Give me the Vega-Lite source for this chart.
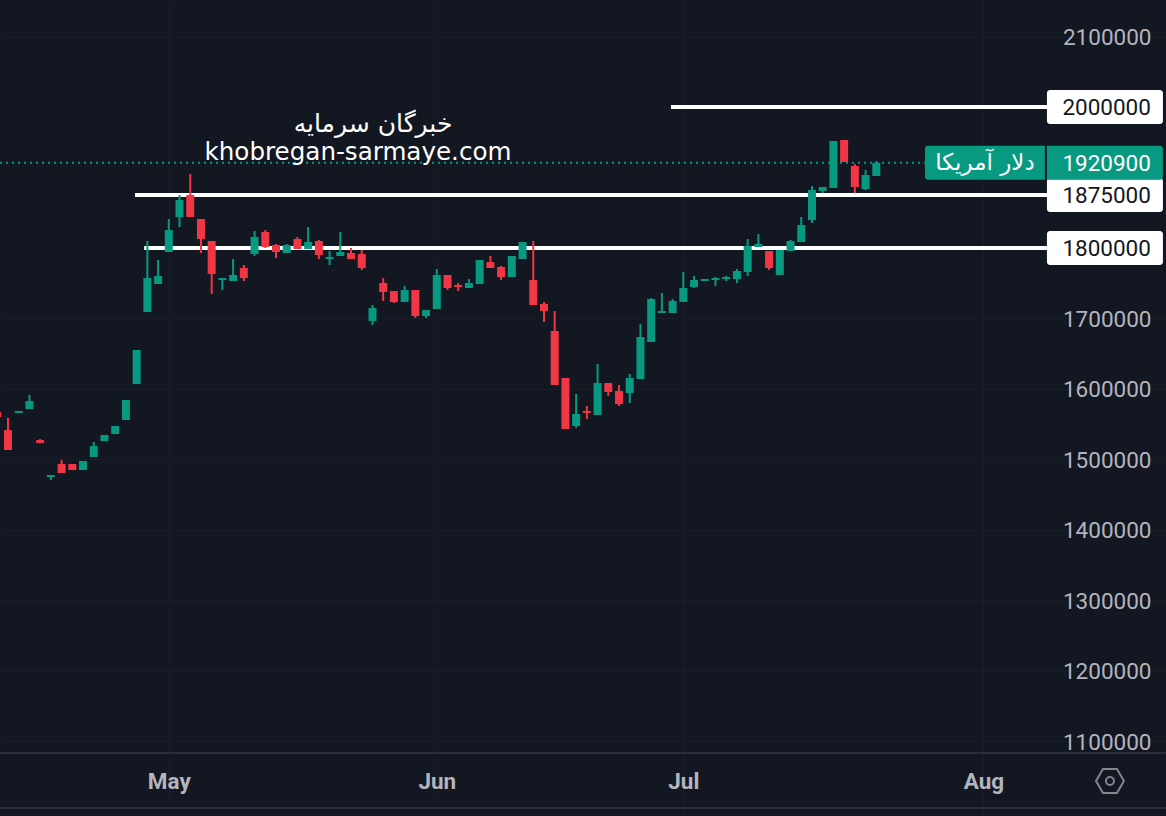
{
  "$schema": "https://vega.github.io/schema/vega-lite/v6.1.0.json",
  "description": "USD price candlestick chart with support and resistance levels",
  "width": 1166,
  "height": 816,
  "autosize": {"type": "none"},
  "padding": {"left": 0, "right": 0, "top": 0, "bottom": 0},
  "background": "#131722",
  "config": {"view": {"stroke": null}},
  "datasets": {
    "candles": [
      {"i": -1, "dir": "down", "high": 1567400, "open": 1567400, "close": 1560300, "low": 1560300},
      {"i": 0, "dir": "down", "high": 1558900, "open": 1541800, "close": 1513500, "low": 1513500},
      {"i": 1, "dir": "up", "high": 1568800, "open": 1566000, "close": 1568800, "low": 1566000},
      {"i": 2, "dir": "up", "high": 1591500, "open": 1571600, "close": 1583000, "low": 1571600},
      {"i": 3, "dir": "down", "high": 1529100, "open": 1527700, "close": 1523400, "low": 1523400},
      {"i": 4, "dir": "up", "high": 1478000, "open": 1475200, "close": 1478000, "low": 1470900},
      {"i": 5, "dir": "down", "high": 1499300, "open": 1493600, "close": 1480900, "low": 1480900},
      {"i": 6, "dir": "down", "high": 1493600, "open": 1493600, "close": 1485100, "low": 1485100},
      {"i": 7, "dir": "up", "high": 1497900, "open": 1485100, "close": 1497900, "low": 1485100},
      {"i": 8, "dir": "up", "high": 1524800, "open": 1503500, "close": 1519100, "low": 1503500},
      {"i": 9, "dir": "up", "high": 1534800, "open": 1526200, "close": 1534800, "low": 1526200},
      {"i": 10, "dir": "up", "high": 1547500, "open": 1536200, "close": 1547500, "low": 1536200},
      {"i": 11, "dir": "up", "high": 1584400, "open": 1556000, "close": 1584400, "low": 1556000},
      {"i": 12, "dir": "up", "high": 1655300, "open": 1607100, "close": 1655300, "low": 1607100},
      {"i": 13, "dir": "up", "high": 1809900, "open": 1709200, "close": 1757400, "low": 1709200},
      {"i": 14, "dir": "up", "high": 1783000, "open": 1748900, "close": 1760300, "low": 1748900},
      {"i": 15, "dir": "up", "high": 1841100, "open": 1794300, "close": 1825500, "low": 1794300},
      {"i": 16, "dir": "up", "high": 1875200, "open": 1844000, "close": 1868100, "low": 1829800},
      {"i": 17, "dir": "down", "high": 1905000, "open": 1875200, "close": 1844000, "low": 1844000},
      {"i": 18, "dir": "down", "high": 1841100, "open": 1841100, "close": 1812800, "low": 1792900},
      {"i": 19, "dir": "down", "high": 1809900, "open": 1809900, "close": 1763100, "low": 1734800},
      {"i": 20, "dir": "up", "high": 1757400, "open": 1754600, "close": 1757400, "low": 1740400},
      {"i": 21, "dir": "up", "high": 1784400, "open": 1753200, "close": 1761700, "low": 1753200},
      {"i": 22, "dir": "down", "high": 1775900, "open": 1771600, "close": 1757400, "low": 1753200},
      {"i": 23, "dir": "up", "high": 1824100, "open": 1791500, "close": 1815600, "low": 1788700},
      {"i": 24, "dir": "down", "high": 1825500, "open": 1822700, "close": 1801400, "low": 1800000},
      {"i": 25, "dir": "down", "high": 1805700, "open": 1804300, "close": 1794300, "low": 1785800},
      {"i": 26, "dir": "up", "high": 1805700, "open": 1792900, "close": 1804300, "low": 1792900},
      {"i": 27, "dir": "down", "high": 1815600, "open": 1812800, "close": 1798600, "low": 1798600},
      {"i": 28, "dir": "up", "high": 1829800, "open": 1798600, "close": 1808500, "low": 1798600},
      {"i": 29, "dir": "down", "high": 1811300, "open": 1809900, "close": 1790100, "low": 1784400},
      {"i": 30, "dir": "up", "high": 1795700, "open": 1784400, "close": 1787200, "low": 1775900},
      {"i": 31, "dir": "up", "high": 1822700, "open": 1788700, "close": 1794300, "low": 1788700},
      {"i": 32, "dir": "down", "high": 1800000, "open": 1792900, "close": 1784400, "low": 1784400},
      {"i": 33, "dir": "down", "high": 1797200, "open": 1791500, "close": 1771600, "low": 1768800},
      {"i": 34, "dir": "up", "high": 1719100, "open": 1696500, "close": 1714900, "low": 1690800},
      {"i": 35, "dir": "down", "high": 1757400, "open": 1750400, "close": 1737600, "low": 1724800},
      {"i": 36, "dir": "down", "high": 1739000, "open": 1739000, "close": 1723400, "low": 1722000},
      {"i": 37, "dir": "up", "high": 1746100, "open": 1723400, "close": 1740400, "low": 1723400},
      {"i": 38, "dir": "down", "high": 1740400, "open": 1740400, "close": 1703500, "low": 1700700},
      {"i": 39, "dir": "up", "high": 1712100, "open": 1703500, "close": 1712100, "low": 1700700},
      {"i": 40, "dir": "up", "high": 1770200, "open": 1713500, "close": 1761700, "low": 1713500},
      {"i": 41, "dir": "down", "high": 1761700, "open": 1761700, "close": 1743300, "low": 1740400},
      {"i": 42, "dir": "down", "high": 1750400, "open": 1747500, "close": 1744700, "low": 1739000},
      {"i": 43, "dir": "up", "high": 1756000, "open": 1743300, "close": 1750400, "low": 1743300},
      {"i": 44, "dir": "up", "high": 1783000, "open": 1748900, "close": 1783000, "low": 1748900},
      {"i": 45, "dir": "down", "high": 1788700, "open": 1780100, "close": 1771600, "low": 1771600},
      {"i": 46, "dir": "down", "high": 1774500, "open": 1773100, "close": 1758900, "low": 1754600},
      {"i": 47, "dir": "up", "high": 1788700, "open": 1758900, "close": 1788700, "low": 1758900},
      {"i": 48, "dir": "up", "high": 1808500, "open": 1784400, "close": 1808500, "low": 1784400},
      {"i": 49, "dir": "down", "high": 1809900, "open": 1754600, "close": 1719100, "low": 1719100},
      {"i": 50, "dir": "down", "high": 1723400, "open": 1720600, "close": 1710600, "low": 1695000},
      {"i": 51, "dir": "down", "high": 1710600, "open": 1682300, "close": 1605700, "low": 1605700},
      {"i": 52, "dir": "down", "high": 1615600, "open": 1615600, "close": 1543300, "low": 1543300},
      {"i": 53, "dir": "up", "high": 1592900, "open": 1547500, "close": 1564500, "low": 1544700},
      {"i": 54, "dir": "down", "high": 1575900, "open": 1568800, "close": 1566000, "low": 1557400},
      {"i": 55, "dir": "up", "high": 1635500, "open": 1563100, "close": 1608500, "low": 1563100},
      {"i": 56, "dir": "down", "high": 1608500, "open": 1608500, "close": 1595700, "low": 1590100},
      {"i": 57, "dir": "down", "high": 1605700, "open": 1597200, "close": 1578700, "low": 1575900},
      {"i": 58, "dir": "up", "high": 1621300, "open": 1594300, "close": 1615600, "low": 1580100},
      {"i": 59, "dir": "up", "high": 1692200, "open": 1614200, "close": 1673800, "low": 1614200},
      {"i": 60, "dir": "up", "high": 1729100, "open": 1666700, "close": 1727700, "low": 1666700},
      {"i": 61, "dir": "up", "high": 1736200, "open": 1707800, "close": 1710600, "low": 1707800},
      {"i": 62, "dir": "up", "high": 1727700, "open": 1707800, "close": 1724800, "low": 1707800},
      {"i": 63, "dir": "up", "high": 1766000, "open": 1723400, "close": 1743300, "low": 1723400},
      {"i": 64, "dir": "up", "high": 1760300, "open": 1744700, "close": 1754600, "low": 1743300},
      {"i": 65, "dir": "up", "high": 1756000, "open": 1753200, "close": 1756000, "low": 1753200},
      {"i": 66, "dir": "up", "high": 1758900, "open": 1754600, "close": 1757400, "low": 1746100},
      {"i": 67, "dir": "up", "high": 1760300, "open": 1756000, "close": 1758900, "low": 1753200},
      {"i": 68, "dir": "up", "high": 1770200, "open": 1756000, "close": 1767400, "low": 1750400},
      {"i": 69, "dir": "up", "high": 1812800, "open": 1766000, "close": 1802800, "low": 1760300},
      {"i": 70, "dir": "up", "high": 1819900, "open": 1801400, "close": 1805700, "low": 1801400},
      {"i": 71, "dir": "down", "high": 1795700, "open": 1795700, "close": 1771600, "low": 1768800},
      {"i": 72, "dir": "up", "high": 1797200, "open": 1761700, "close": 1797200, "low": 1761700},
      {"i": 73, "dir": "up", "high": 1811300, "open": 1795700, "close": 1809900, "low": 1795700},
      {"i": 74, "dir": "up", "high": 1844000, "open": 1808500, "close": 1832600, "low": 1808500},
      {"i": 75, "dir": "up", "high": 1887900, "open": 1839700, "close": 1882300, "low": 1835500},
      {"i": 76, "dir": "up", "high": 1886500, "open": 1880900, "close": 1886500, "low": 1878000},
      {"i": 77, "dir": "up", "high": 1951800, "open": 1885100, "close": 1951800, "low": 1885100},
      {"i": 78, "dir": "down", "high": 1953200, "open": 1953200, "close": 1922000, "low": 1922000},
      {"i": 79, "dir": "down", "high": 1919100, "open": 1916300, "close": 1886500, "low": 1878000},
      {"i": 80, "dir": "up", "high": 1910600, "open": 1883700, "close": 1903500, "low": 1882300},
      {"i": 81, "dir": "up", "high": 1923400, "open": 1902100, "close": 1920900, "low": 1902100}
    ],
    "levels": [
      {"price": 2000000, "start": 61.85},
      {"price": 1875000, "start": 11.85},
      {"price": 1800000, "start": 12.7}
    ],
    "last": [{"price": 1920900, "name": "دلار آمریکا"}],
    "frame": [{"price": 1083700}, {"price": 1005700}]
  },
  "layer": [
    {
      "data": {"name": "frame"},
      "mark": {"type": "rule", "stroke": "#2a2e39", "strokeWidth": 2},
      "encoding": {
        "x": {
          "datum": -0.746,
          "type": "quantitative",
          "title": null,
          "scale": {"domain": [-0.28, 107.56], "nice": false, "zero": false},
          "axis": {
            "title": null,
            "orient": "bottom",
            "values": [15, 40, 63, 91],
            "labelExpr": "{15: 'May', 40: 'Jun', 63: 'Jul', 91: 'Aug'}[datum.value]",
            "labelPadding": -35,
            "labelBaseline": "middle",
            "labelFont": "Roboto",
            "labelFontSize": 22.5,
            "labelFontWeight": "bold",
            "labelColor": "#b2b5be",
            "labelOverlap": false,
            "labelBound": false,
            "labelFlush": false,
            "domain": false,
            "ticks": false,
            "grid": true,
            "gridColor": "#191d28",
            "gridWidth": 1
          }
        },
        "x2": {"datum": 108.02},
        "y": {
          "field": "price",
          "type": "quantitative",
          "title": null,
          "scale": {"domain": [1001416, 2144681], "nice": false, "zero": false},
          "axis": {
            "title": null,
            "orient": "right",
            "values": [1100000, 1200000, 1300000, 1400000, 1500000, 1600000, 1700000, 2100000],
            "format": "d",
            "labelPadding": -15,
            "labelAlign": "right",
            "labelOffset": 1,
            "labelFont": "Roboto",
            "labelFontSize": 22.5,
            "labelColor": "#b2b5be",
            "labelOverlap": false,
            "labelBound": false,
            "labelFlush": false,
            "domain": false,
            "ticks": false,
            "grid": true,
            "gridColor": "#191d28",
            "gridWidth": 1
          }
        }
      }
    },
    {
      "data": {"name": "levels"},
      "mark": {"type": "rule", "stroke": "#ffffff", "strokeWidth": 4},
      "encoding": {
        "x": {"field": "start", "type": "quantitative", "title": null},
        "x2": {"datum": 96.92},
        "y": {"field": "price", "type": "quantitative", "title": null}
      }
    },
    {
      "data": {"name": "candles"},
      "mark": {"type": "rule", "strokeWidth": 2},
      "encoding": {
        "x": {"field": "i", "type": "quantitative", "title": null},
        "y": {"field": "high", "type": "quantitative", "title": null},
        "y2": {"field": "low", "title": null},
        "color": {
          "field": "dir",
          "type": "nominal",
          "legend": null,
          "scale": {"domain": ["up", "down"], "range": ["#089981", "#f23645"]}
        }
      }
    },
    {
      "data": {"name": "candles"},
      "mark": {"type": "bar", "size": 8},
      "encoding": {
        "x": {"field": "i", "type": "quantitative", "title": null},
        "y": {"field": "open", "type": "quantitative", "title": null},
        "y2": {"field": "close", "title": null},
        "color": {"field": "dir", "type": "nominal", "legend": null}
      }
    },
    {
      "data": {"name": "last"},
      "mark": {"type": "rule", "stroke": "#089981", "strokeWidth": 2, "strokeDash": [2, 4]},
      "encoding": {
        "x": {"datum": -0.746, "type": "quantitative", "title": null},
        "x2": {"datum": 85.54},
        "y": {"field": "price", "type": "quantitative", "title": null}
      }
    },
    {
      "data": {"name": "levels"},
      "mark": {"type": "bar", "size": 34, "orient": "horizontal", "fill": "#ffffff", "cornerRadius": 3},
      "encoding": {
        "x": {"datum": 96.92, "type": "quantitative", "title": null},
        "x2": {"datum": 107.74},
        "y": {"field": "price", "type": "quantitative", "title": null}
      }
    },
    {
      "data": {"name": "last"},
      "mark": {"type": "bar", "size": 34, "orient": "horizontal", "fill": "#089981", "cornerRadiusTopLeft": 3, "cornerRadiusBottomLeft": 3},
      "encoding": {
        "x": {"datum": 85.54, "type": "quantitative", "title": null},
        "x2": {"datum": 96.73},
        "y": {"field": "price", "type": "quantitative", "title": null}
      }
    },
    {
      "data": {"name": "last"},
      "mark": {"type": "bar", "size": 34, "orient": "horizontal", "fill": "#089981", "cornerRadiusTopRight": 3, "cornerRadiusBottomRight": 3},
      "encoding": {
        "x": {"datum": 96.92, "type": "quantitative", "title": null},
        "x2": {"datum": 107.74},
        "y": {"field": "price", "type": "quantitative", "title": null}
      }
    },
    {
      "data": {"name": "levels"},
      "mark": {"type": "text", "align": "right", "baseline": "middle", "dy": 1, "font": "Roboto", "fontSize": 22.5, "fill": "#131722"},
      "encoding": {
        "x": {"datum": 106.62, "type": "quantitative", "title": null},
        "y": {"field": "price", "type": "quantitative", "title": null},
        "text": {"field": "price", "type": "quantitative", "format": "d"}
      }
    },
    {
      "data": {"name": "last"},
      "mark": {"type": "text", "align": "right", "baseline": "middle", "dy": 1, "font": "Roboto", "fontSize": 22.5, "fill": "#ffffff"},
      "encoding": {
        "x": {"datum": 106.62, "type": "quantitative", "title": null},
        "y": {"field": "price", "type": "quantitative", "title": null},
        "text": {"field": "price", "type": "quantitative", "format": "d"}
      }
    },
    {
      "data": {"name": "last"},
      "mark": {"type": "text", "align": "center", "baseline": "middle", "font": "DejaVu Sans", "fontSize": 23, "fill": "#ffffff"},
      "encoding": {
        "x": {"datum": 91.14, "type": "quantitative", "title": null},
        "y": {"field": "price", "type": "quantitative", "title": null},
        "text": {"field": "name", "type": "nominal"}
      }
    },
    {
      "data": {"values": [{"i": 34.05, "price": 1975900, "text": "خبرگان سرمایه"}]},
      "mark": {"type": "text", "align": "center", "baseline": "middle", "font": "DejaVu Sans", "fontSize": 25, "fill": "#ffffff"},
      "encoding": {
        "x": {"field": "i", "type": "quantitative", "title": null},
        "y": {"field": "price", "type": "quantitative", "title": null},
        "text": {"field": "text", "type": "nominal"}
      }
    },
    {
      "data": {"values": [{"i": 32.65, "price": 1934800, "text": "khobregan-sarmaye.com"}]},
      "mark": {"type": "text", "align": "center", "baseline": "middle", "font": "DejaVu Sans", "fontSize": 24.6, "fill": "#ffffff"},
      "encoding": {
        "x": {"field": "i", "type": "quantitative", "title": null},
        "y": {"field": "price", "type": "quantitative", "title": null},
        "text": {"field": "text", "type": "nominal"}
      }
    },
    {
      "data": {"values": [{"price": 1043970}]},
      "mark": {"type": "point", "shape": "M-1,0L-0.5,-0.86L0.5,-0.86L1,0L0.5,0.86L-0.5,0.86Z", "size": 780, "filled": false, "stroke": "#b2b5be", "strokeWidth": 2},
      "encoding": {
        "x": {"datum": 102.8, "type": "quantitative", "title": null},
        "y": {"field": "price", "type": "quantitative", "title": null}
      }
    },
    {
      "data": {"values": [{"price": 1043970}]},
      "mark": {"type": "point", "shape": "circle", "size": 64, "filled": false, "stroke": "#b2b5be", "strokeWidth": 2},
      "encoding": {
        "x": {"datum": 102.8, "type": "quantitative", "title": null},
        "y": {"field": "price", "type": "quantitative", "title": null}
      }
    }
  ]
}
